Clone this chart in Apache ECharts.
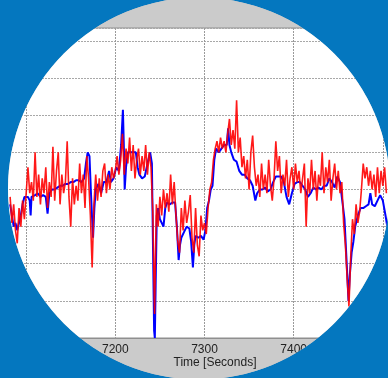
<!DOCTYPE html>
<html>
<head>
<meta charset="utf-8">
<script src="https://cdn.jsdelivr.net/npm/echarts@6/dist/echarts.min.js"></script>
<style>
    html, body { margin: 0; padding: 0; background: #0477bf; }
    #wrap { position: relative; overflow: hidden; width: 388px; height: 378px; background: #cbcbcb;
        clip-path: circle(191px at 199px 188.5px); }
    #main { position: absolute; left: -63px; top: 0; width: 535px; height: 378px; }
</style>
</head>
<body>
<div id="wrap"><div id="main"></div></div>
<script>
    // 蓝线: 时间 / 数值
    var blueTime = [7082, 7084, 7086, 7088, 7090, 7092, 7094, 7096, 7098, 7100, 7102, 7104, 7105, 7106, 7108, 7110, 7113, 7116, 7119, 7122,
        7124, 7126, 7129, 7132, 7135, 7138, 7141, 7144, 7147, 7150, 7153, 7156, 7159, 7162, 7165, 7167, 7169, 7171, 7172.5, 7174,
        7175, 7176.5, 7178, 7181, 7184, 7187, 7190, 7193, 7195, 7198, 7201, 7204, 7206.5, 7208.5, 7209.5, 7210.5, 7212, 7214, 7217, 7220,
        7223, 7225, 7227, 7230, 7233, 7235, 7237, 7239, 7241, 7242.5, 7243.5, 7244.3, 7245.2, 7246.5, 7248, 7250, 7252, 7254, 7256, 7258,
        7261, 7264, 7267, 7269, 7271, 7272.5, 7274, 7277, 7280, 7283, 7285, 7287, 7288.5, 7290, 7293, 7296, 7299, 7301, 7303, 7305,
        7307, 7309, 7311, 7313, 7316, 7319, 7322, 7325, 7326.5, 7328, 7330, 7333, 7336, 7339, 7342, 7345, 7348, 7351, 7354, 7357,
        7359, 7362, 7365, 7368, 7371, 7374, 7377, 7380, 7383, 7386, 7389, 7392, 7395, 7398, 7401, 7404, 7407, 7410, 7413, 7416,
        7419, 7422, 7425, 7428, 7431, 7434, 7437, 7440, 7443, 7446, 7449, 7452, 7454.5, 7457, 7459.5, 7461.5, 7463, 7465, 7467, 7469,
        7472, 7475, 7478, 7481, 7484, 7486, 7488, 7491, 7494, 7497, 7500, 7503, 7505];
    var blueValue = [3.6, 3.3, 3.0, 3.1, 2.9, 2.9, 3.3, 3.6, 3.8, 3.8, 3.8, 3.7, 3.3, 3.8, 3.8, 3.85, 3.9, 3.8, 3.85, 3.8,
        3.35, 3.9, 4.0, 4.0, 4.05, 4.1, 4.1, 4.15, 4.15, 4.2, 4.2, 4.25, 4.25, 4.2, 4.3, 4.7, 5.0, 4.9, 4.0, 3.2,
        2.7, 3.5, 4.0, 4.15, 3.9, 4.2, 4.2, 4.5, 4.2, 4.3, 4.6, 4.5, 5.2, 6.15, 5.2, 4.0, 4.6, 5.0, 5.0, 5.0,
        5.0, 4.6, 4.4, 4.3, 4.35, 4.4, 4.8, 5.0, 4.7, 2.0, 0.2, 0.0, 1.4, 3.3, 3.5, 3.2, 3.1, 3.0, 3.5, 3.65,
        3.6, 3.65, 3.65, 3.0, 2.1, 2.5, 2.7, 2.85, 3.0, 2.95, 2.6, 1.9, 2.5, 2.75, 2.7, 2.75, 2.65, 2.9, 3.5, 3.7,
        4.0, 4.1, 4.8, 5.1, 5.0, 5.1, 5.2, 5.2, 5.65, 5.2, 5.0, 4.8, 4.75, 4.5, 4.4, 4.4, 4.3, 4.25, 4.1, 3.7,
        3.9, 4.0, 4.0, 4.05, 3.95, 4.0, 4.2, 4.35, 4.35, 4.35, 4.2, 3.8, 3.6, 3.9, 4.15, 4.2, 4.2, 4.1, 4.0, 3.8,
        3.9, 4.05, 4.0, 4.05, 4.0, 4.1, 4.1, 4.3, 4.2, 4.05, 4.35, 4.2, 3.7, 3.2, 2.0, 1.0, 1.7, 2.3, 2.6, 3.0,
        3.3, 3.5, 3.5, 3.55, 3.6, 3.9, 3.6, 3.55, 3.7, 3.85, 3.7, 3.3, 3.0];

    // 红线: 每2秒一个采样, 从7082开始
    var redStart = 7082;
    var redStep = 2;
    var redValue = [3.8, 3.1, 3.6, 2.9, 2.55, 3.5, 3.0, 3.7, 3.2, 3.9, 4.6, 3.9, 4.2, 3.7, 5.0, 3.8, 4.4, 3.6, 4.3, 3.9,
        4.6, 3.5, 4.2, 3.8, 5.15, 3.7, 4.5, 5.0, 3.6, 4.4, 3.9, 4.2, 5.3, 3.8, 3.0, 4.3, 3.6, 4.1, 3.7, 4.7,
        3.9, 4.4, 3.5, 4.9, 4.3, 3.3, 1.9, 3.6, 4.4, 3.7, 4.3, 3.8, 4.5, 4.7, 3.9, 4.4, 4.0, 4.6, 4.3, 4.5,
        4.9, 4.4, 4.8, 5.5, 4.4, 5.1, 4.7, 5.4, 4.5, 5.2, 4.3, 4.8, 5.1, 4.4, 4.9, 4.5, 5.2, 4.4, 5.0, 4.6,
        3.4, 0.65, 3.6, 3.0, 3.8, 3.3, 4.0, 3.5, 3.9, 3.4, 4.4, 3.6, 4.2, 3.3, 2.6, 2.3, 3.5, 2.9, 3.7, 3.1,
        3.4, 3.85, 2.7, 2.3, 3.5, 2.5, 2.2, 3.3, 2.9, 3.1, 2.8, 3.5, 4.0, 4.2, 4.8, 5.1, 5.3, 5.0, 5.4, 5.1,
        5.3, 5.0, 5.5, 5.9, 5.2, 5.6, 5.1, 6.4, 5.0, 5.4, 4.6, 4.9, 4.3, 4.8, 4.0, 5.0, 5.45, 4.6, 4.1, 4.4,
        3.8, 4.7, 4.0, 4.4, 3.9, 4.8, 4.1, 3.7, 4.3, 5.3, 4.5, 4.9, 3.9, 4.4, 4.1, 4.8, 3.8, 4.3, 4.6, 4.0,
        4.7, 4.2, 4.5, 3.9, 4.3, 4.7, 3.0, 4.3, 3.9, 4.8, 4.0, 4.5, 3.7, 4.4, 4.1, 5.0, 3.9, 4.6, 4.2, 4.8,
        3.7, 4.3, 4.7, 4.0, 4.5, 3.9, 4.2, 3.1, 2.5, 1.6, 0.85, 2.2, 3.2, 2.8, 3.6, 3.1, 3.4, 4.0, 4.7, 4.3,
        4.6, 4.1, 4.5, 4.0, 4.4, 3.8, 4.6, 3.9, 4.5, 4.1, 4.6, 3.9];

    var xMin = 7000, xMax = 7600, xTick = 100;
    var yMin = 0, yMax = 8.35, yTick = 1;

    var blueData = [];
    for (var i = 0; i < blueTime.length; i++) {
        blueData.push([blueTime[i], blueValue[i]]);
    }
    var redData = [];
    for (var j = 0; j < redValue.length; j++) {
        redData.push([redStart + j * redStep, redValue[j]]);
    }

    var myChart = echarts.init(document.getElementById('main'));
    var option = {
        animation: false,
        backgroundColor: '#cbcbcb',
        grid: {
            show: true,
            left: 0,
            right: 0,
            top: 28,
            bottom: 40,
            outerBoundsMode: 'none',
            containLabel: false,
            backgroundColor: '#ffffff',
            borderColor: '#8f8f8f',
            borderWidth: 1
        },
        xAxis: {
            type: 'value',
            min: xMin,
            max: xMax,
            interval: xTick,
            axisLine: { show: true, lineStyle: { color: '#8f8f8f' } },
            axisTick: { show: false },
            axisLabel: {
                color: '#222',
                fontFamily: 'Liberation Sans, Arial, sans-serif',
                fontSize: 12,
                margin: 6,
                showMinLabel: false,
                showMaxLabel: false,
                formatter: function (v) { return String(v); }
            },
            splitLine: {
                show: true,
                lineStyle: { color: '#9a9a9a', type: [2, 1], width: 1 }
            }
        },
        yAxis: {
            type: 'value',
            min: yMin,
            max: yMax,
            interval: yTick,
            axisLine: { show: false },
            axisTick: { show: false },
            axisLabel: { show: false },
            splitLine: {
                show: true,
                lineStyle: { color: '#a8a8a8', type: [2, 1], width: 1 }
            }
        },
        graphic: [{
            type: 'text',
            x: 278,
            y: 363,
            style: {
                text: 'Time [Seconds]',
                fill: '#222',
                font: '12px Liberation Sans, Arial, sans-serif',
                textAlign: 'center',
                textVerticalAlign: 'middle'
            }
        }],
        series: [{
            type: 'line',
            data: blueData,
            showSymbol: false,
            lineStyle: { color: '#0000ff', width: 2 }
        }, {
            type: 'line',
            data: redData,
            showSymbol: false,
            lineStyle: { color: '#ff0000', width: 1.6, opacity: 0.9 }
        }]
    };
    myChart.setOption(option);
</script>
</body>
</html>
